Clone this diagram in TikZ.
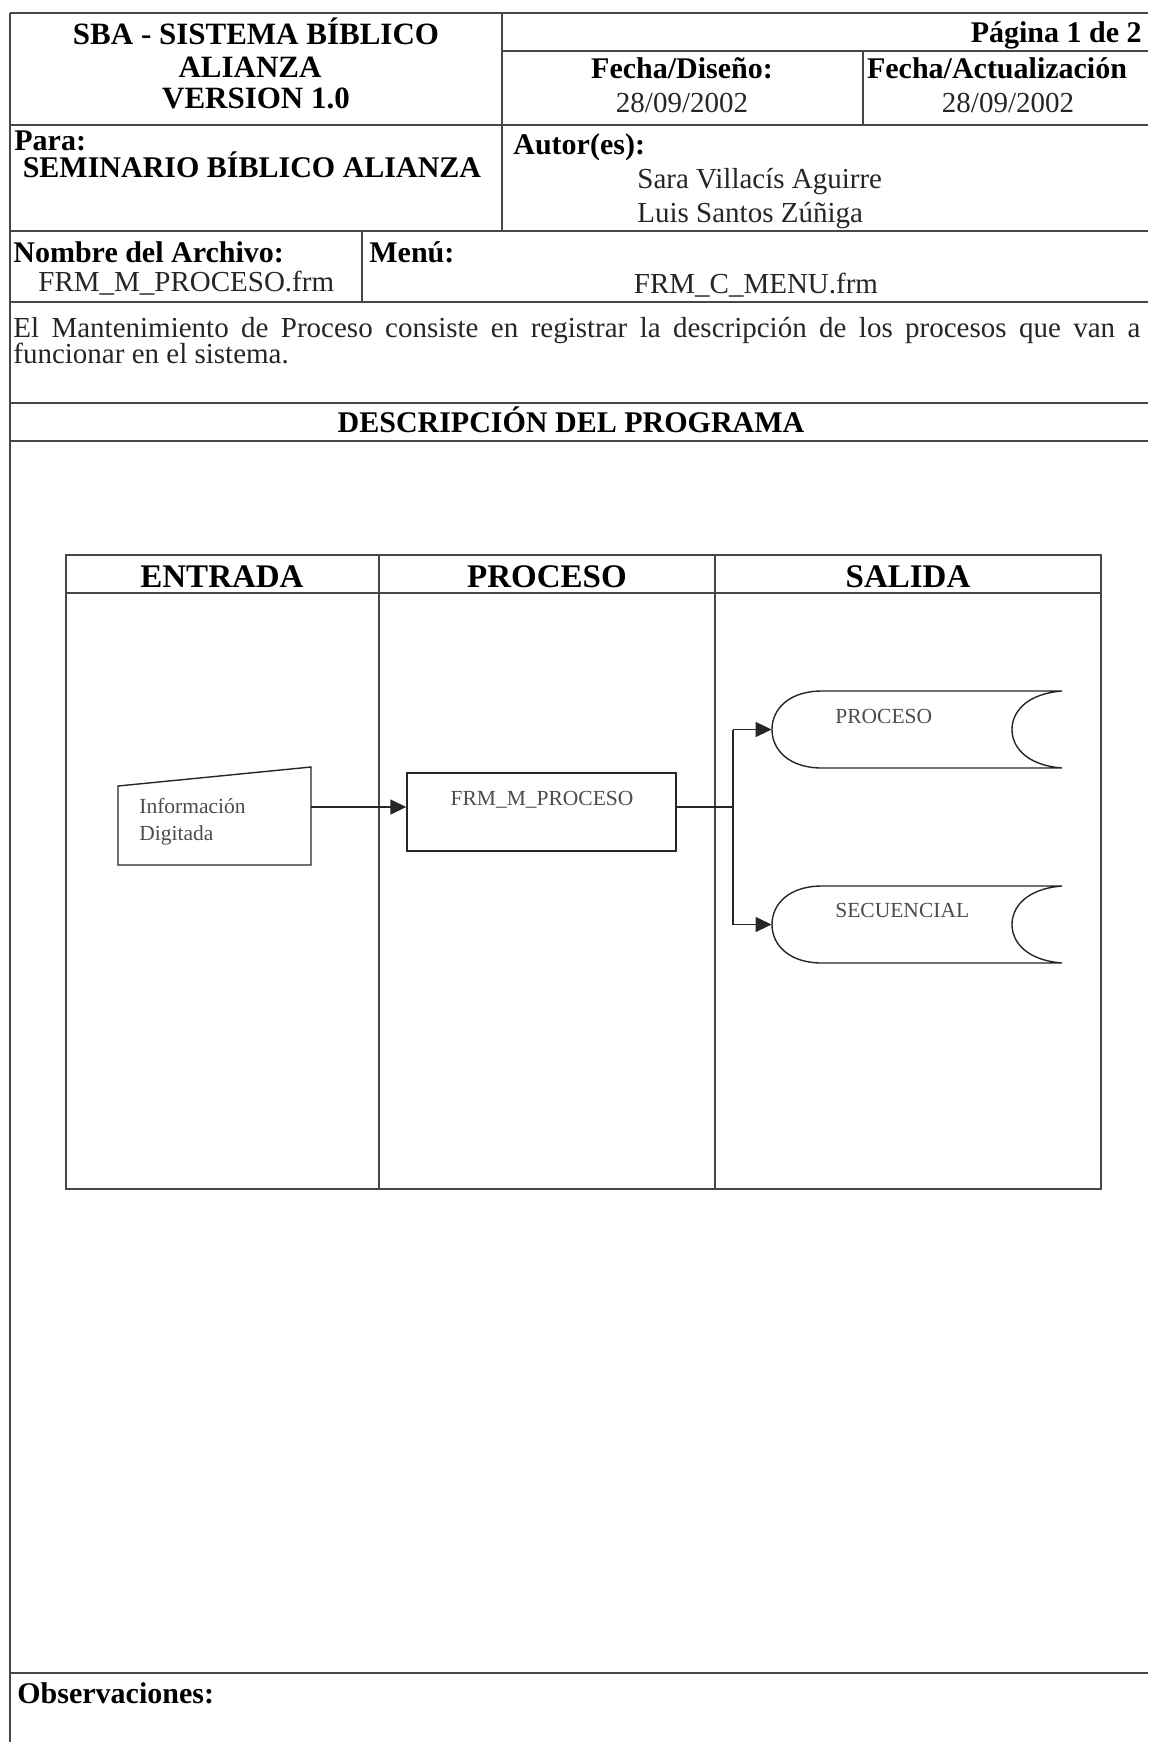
\documentclass[tikz,border=0pt]{standalone}
\usepackage{fontspec}
\setmainfont{Liberation Serif}
\usetikzlibrary{arrows.meta}
\begin{document}
\begin{tikzpicture}[x=0.5pt,y=-0.5pt,
  rule/.style={draw=black!72, line width=0.6pt},
  shp/.style={draw=black!85, line width=0.7pt},
  hdr/.style={font=\fontsize{15}{18}\selectfont\bfseries, inner sep=0pt},
  ttl/.style={font=\fontsize{15.5}{18}\selectfont\bfseries, inner sep=0pt},
  txt/.style={font=\fontsize{14.5}{17}\selectfont, inner sep=0pt, text=black!85},
  lane/.style={font=\fontsize{16.5}{20}\selectfont\bfseries, inner sep=0pt},
  lbl/.style={font=\fontsize{10.75}{13}\selectfont, text=black!70, inner sep=0pt},
  arr/.style={shp, -{Triangle[length=8pt,width=7.5pt]}},
  ghost/.style={draw=none, inner sep=0pt},
]
\useasboundingbox (0,0) rectangle (1148,1742);
\fill[white] (0,0) rectangle (1148,1742);

% ---------- form frame ----------
\draw[rule] (10,13) -- (1148,13);
\draw[rule] (10,13) -- (10,1742);
\draw[rule] (502,13) -- (502,231);
\draw[rule] (502,51) -- (1148,51);
\draw[rule] (863,51) -- (863,125);
\draw[rule] (10,125) -- (1148,125);
\draw[rule] (10,231) -- (1148,231);
\draw[rule] (362,231) -- (362,302);
\draw[rule] (10,302) -- (1148,302);
\draw[rule] (10,403) -- (1148,403);
\draw[rule] (10,441) -- (1148,441);
\draw[rule] (10,1673) -- (1148,1673);

% ---------- header texts ----------
\node[ttl, anchor=base] (t1) at (256,44) {SBA - SISTEMA BÍBLICO};
\node[ttl, anchor=base] (t2) at (250,77) {ALIANZA};
\node[ttl, anchor=base] (t3) at (256,108) {VERSION 1.0};
\node[hdr, anchor=base east] (pag) at (1142,42) {Página 1 de 2};
\node[hdr, anchor=base] (fd) at (682,78) {Fecha/Diseño:};
\node[txt, anchor=base] (fdv) at (682,112) {28/09/2002};
\node[hdr, anchor=base] (fa) at (997,78) {Fecha/Actualización};
\node[txt, anchor=base] (fav) at (1008,112) {28/09/2002};
\node[hdr, anchor=base west] (para) at (14,150) {Para:};
\node[hdr, anchor=base] (sem) at (252,177) {SEMINARIO BÍBLICO ALIANZA};
\node[hdr, anchor=base west] (aut) at (513,154) {Autor(es):};
\node[txt, anchor=base west] (a1) at (637,188) {Sara Villacís Aguirre};
\node[txt, anchor=base west] (a2) at (637,222) {Luis Santos Zúñiga};
\node[hdr, anchor=base west] (nom) at (13,262) {Nombre del Archivo:};
\node[txt, anchor=base west] (nomv) at (38,291) {FRM\_M\_PROCESO.frm};
\node[hdr, anchor=base west] (menu) at (369,262) {Menú:};
\node[txt, anchor=base] (menuv) at (756,293) {FRM\_C\_MENU.frm};
\node[txt, anchor=base west] (d1) at (13,337) {\makebox[563.5pt][s]{El Mantenimiento de Proceso consiste en registrar la descripción de los procesos que van a}};
\node[txt, anchor=base west] (d2) at (13,363) {funcionar en el sistema.};
\node[hdr, anchor=base] (desc) at (571,432) {DESCRIPCIÓN DEL PROGRAMA};
\node[hdr, anchor=base west] (obs) at (17,1703) {Observaciones:};

% ---------- swimlane table ----------
\draw[rule] (66,555) rectangle (1101,1189);
\draw[rule] (66,593) -- (1101,593);
\draw[rule] (379,555) -- (379,1189);
\draw[rule] (715,555) -- (715,1189);
\node[lane, anchor=base] (hE) at (222,587) {ENTRADA};
\node[lane, anchor=base] (hP) at (547,587) {PROCESO};
\node[lane, anchor=base] (hS) at (908,587) {SALIDA};

% ---------- manual input ----------
\node[ghost, minimum width=96.5pt, minimum height=49pt] (info) at (214.5,816) {};
\draw[shp] (118,786) -- (311,767) -- (311,865) -- (118,865) -- cycle;
\node[lbl, anchor=base west] (infoA) at (139,813) {Información};
\node[lbl, anchor=base west] (infoB) at (139,840) {Digitada};

% ---------- process box ----------
\node[shp, inner sep=0pt, minimum width=134.5pt, minimum height=39pt] (frm) at (541.5,812) {};
\node[lbl, anchor=base] (frmt) at (542,805) {FRM\_M\_PROCESO};

% ---------- stored data ----------
\node[ghost, minimum width=145pt, minimum height=38.5pt] (st1) at (917,729.5) {};
\node[ghost, minimum width=145pt, minimum height=38.5pt] (st2) at (917,924.5) {};
\foreach \dy in {0,195}{
  \begin{scope}[shift={(0,\dy)}]
  \draw[shp] (822,691) -- (1062,691)
     .. controls (1025,694) and (1012,713) .. (1012,729.5)
     .. controls (1012,746) and (1025,765) .. (1062,768)
     -- (822,768)
     .. controls (789,768) and (772,750) .. (772,729.5)
     .. controls (772,709) and (789,691) .. (822,691) -- cycle;
  \end{scope}
}
\node[lbl, anchor=base west] (st1t) at (835,723) {PROCESO};
\node[lbl, anchor=base west] (st2t) at (835,917) {SECUENCIAL};

% ---------- connectors ----------
\coordinate (fy) at (0,807);
\coordinate (jn) at (733,807);
\draw[arr] (info.east |- fy) -- (frm.west |- fy);
\draw[shp] (frm.east |- fy) -- (jn);
\draw[shp] (jn |- st1.west) -- (jn |- st2.west);
\draw[arr] (jn |- st1.west) -- (st1.west);
\draw[arr] (jn |- st2.west) -- (st2.west);
\end{tikzpicture}
\end{document}
